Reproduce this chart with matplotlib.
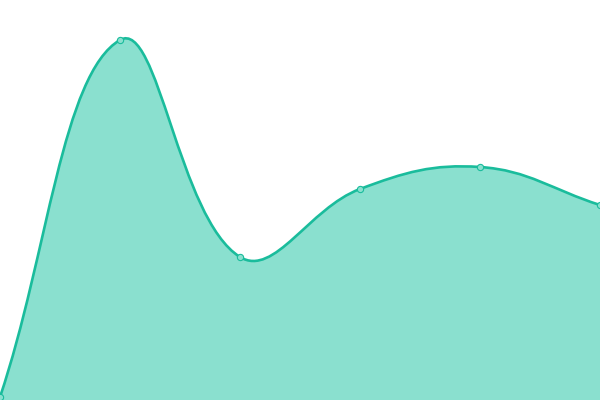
import numpy as np
import matplotlib
matplotlib.use("Agg")
import matplotlib.pyplot as plt
from matplotlib.path import Path
from matplotlib.patches import PathPatch

categories = ["A", "B", "C", "D", "E", "F"]
values = [3, 360, 143, 211, 233, 195]

LINE = "#1abc9c"
FILL = "#8ae0cf"
TENSION = 0.4

fig = plt.figure(figsize=(6, 4), dpi=100)
ax = fig.add_axes([0, 0, 1, 1])
ax.set_xlim(0, len(categories) - 1)
ax.set_ylim(0, 400)
ax.axis("off")

x = np.arange(len(categories), dtype=float)
y = np.array(values, dtype=float)

# work in display space for tension computation
pts = ax.transData.transform(np.column_stack([x, y]))
n = len(pts)
cp_prev = [None] * n
cp_next = [None] * n
for i in range(n):
    cur = pts[i]
    prev = pts[i - 1] if i > 0 else cur
    nxt = pts[i + 1] if i < n - 1 else cur
    d01 = np.hypot(*(cur - prev))
    d12 = np.hypot(*(nxt - cur))
    tot = d01 + d12
    s01 = d01 / tot if tot else 0
    s12 = d12 / tot if tot else 0
    fa = TENSION * s01
    fb = TENSION * s12
    cp_prev[i] = cur - fa * (nxt - prev)
    cp_next[i] = cur + fb * (nxt - prev)

verts = [pts[0]]
codes = [Path.MOVETO]
for i in range(n - 1):
    verts += [cp_next[i], cp_prev[i + 1], pts[i + 1]]
    codes += [Path.CURVE4] * 3
inv = ax.transData.inverted()
verts_d = inv.transform(np.array(verts))

line_path = Path(verts_d, codes)
base = ax.get_ylim()[0]
fill_verts = np.vstack([verts_d, [[x[-1], base], [x[0], base], verts_d[0]]])
fill_codes = codes + [Path.LINETO, Path.LINETO, Path.CLOSEPOLY]
ax.add_patch(PathPatch(Path(fill_verts, fill_codes), facecolor=FILL, edgecolor="none", zorder=1))
ax.add_patch(PathPatch(line_path, facecolor="none", edgecolor=LINE, linewidth=1.9, zorder=2))
ax.plot(x, y, linestyle="none", marker="o", markersize=4.5, markerfacecolor=FILL,
        markeredgecolor=LINE, markeredgewidth=0.8, zorder=3, clip_on=False)

fig.savefig("out.png", dpi=100)
